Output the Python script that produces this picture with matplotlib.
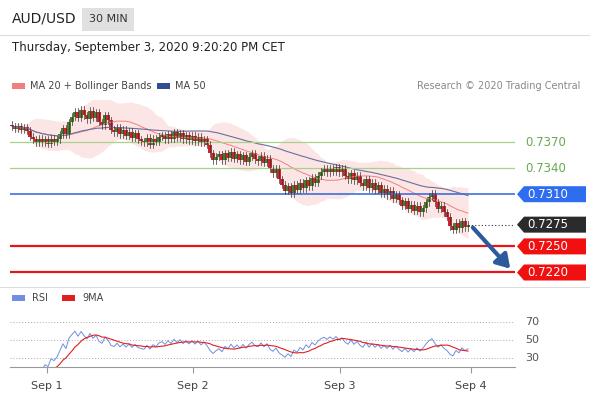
import matplotlib
matplotlib.use("Agg")
import matplotlib.pyplot as plt
from matplotlib.patches import Polygon, Rectangle
import numpy as np
import pandas as pd

closes = [0.7388,0.7385,0.7388,0.7384,0.7387,0.7383,
 0.7376,0.7373,0.7369,0.7374,0.7369,
 0.7373,0.7368,0.7374,0.7370,0.7373,
 0.7379,0.7386,0.7379,0.7393,
 0.7399,0.7405,0.7398,0.7407,0.7401,0.7396,0.7406,0.7398,0.7404,0.7393,
 0.7389,0.7401,0.7395,
 0.7384,0.7381,0.7387,0.7379,0.7384,0.7377,0.7382,0.7375,0.7380,0.7373,
 0.7371,0.7369,0.7375,0.7367,0.7374,0.7370,0.7376,
 0.7378,0.7373,0.7379,0.7374,0.7381,0.7375,0.7380,0.7373,0.7378,0.7372,0.7377,0.7371,0.7376,
 0.7369,0.7373,0.7367,
 0.7357,0.7349,0.7353,
 0.7356,0.7349,0.7357,0.7352,0.7359,0.7351,0.7356,0.7349,0.7355,0.7347,0.7353,0.7357,0.7350,0.7348,0.7354,0.7346,0.7351,
 0.7339,0.7334,0.7339,0.7327,0.7321,
 0.7314,0.7319,0.7311,0.7321,0.7315,
 0.7323,0.7317,0.7326,0.7319,0.7329,0.7323,0.7331,
 0.7336,0.7339,0.7335,0.7340,0.7336,0.7341,0.7335,0.7339,
 0.7331,0.7327,0.7334,0.7326,0.7331,
 0.7323,0.7319,0.7327,0.7317,0.7323,0.7315,0.7320,
 0.7311,0.7316,0.7309,0.7314,0.7305,0.7310,0.7303,
 0.7297,0.7302,0.7293,0.7298,0.7291,0.7297,0.7289,0.7294,
 0.7301,0.7307,0.7311,0.7301,
 0.7293,0.7297,0.7289,0.7284,
 0.7273,0.7269,0.7277,0.7271,0.7279,0.7272,0.7275]
first_open = 0.7390
day_labels = ["Sep 1", "Sep 2", "Sep 3", "Sep 4"]
day_pos = [11.7, 60.3, 109.3, 153.0]
green_levels = [0.7370, 0.7340]
blue_level = 0.7310
last_level = 0.7275
red_levels = [0.7250, 0.7220]
rsi_levels = [70, 50, 30]

W, H = 590, 400
fig = plt.figure(figsize=(5.9, 4.0), dpi=100)
fig.patch.set_facecolor("white")

def fx(x): return x / W
def fy(y): return 1 - y / H

n = len(closes)
c = pd.Series(closes)
opens = [first_open] + closes[:-1]
ma20 = c.rolling(20, min_periods=2).mean()
sd20 = c.rolling(20, min_periods=2).std()
ma50 = c.rolling(50, min_periods=1).mean()

x0p, x1p = 10, 515
ax = fig.add_axes([fx(x0p), fy(285), fx(x1p - x0p), (285 - 100) / H])
xl = (-(12 - x0p) / 3.0, (x1p - 12) / 3.0)
ax.set_xlim(*xl)
def py2v(y): return 0.7370 + (142 - y) / 8.7 * 0.001
ax.set_ylim(py2v(285), py2v(100))
ax.axis("off")
xs = np.arange(n)
ax.fill_between(xs, ma20 - 2.3 * sd20, ma20 + 2.3 * sd20, color="#fbd5d5", alpha=0.6, lw=0)
ax.plot(xs, ma20, color="#f08080", lw=0.7)
ax.plot(xs, ma50, color="#6a6f9a", lw=0.8)
for lv in green_levels:
    ax.axhline(lv, color="#a9d18e", lw=0.9)
ax.axhline(blue_level, color="#3d6fe0", lw=1.2)
for lv in red_levels:
    ax.axhline(lv, color="#e8141b", lw=1.6)
ax.plot([n - 1, xl[1]], [last_level, last_level], ls=(0, (1, 2)), color="#333", lw=0.8)
for i in range(n):
    o, cl = opens[i], closes[i]
    col = "#4d7a2a" if cl >= o else "#c7282e"
    hi, lo = max(o, cl) + 0.0004, min(o, cl) - 0.0004
    ax.plot([i, i], [lo, hi], color="#333", lw=0.5)
    ax.add_patch(Rectangle((i - 0.6, min(o, cl)), 1.2, max(abs(cl - o), 0.00003), color=col, lw=0))
ax.annotate("", xy=(166.7, 0.7222), xytext=(153.0, 0.7274),
            arrowprops=dict(arrowstyle="-|>,head_width=0.5,head_length=0.8", color="#2d5a9a", lw=3))

def label(v, text, fc, tc="white"):
    y = 142 - (v - 0.7370) / 0.001 * 8.7
    if fc is None:
        fig.text(fx(525), fy(y), text, color="#6aa84f", fontsize=8.5, va="center")
        return
    pts = [(517, y), (524, y - 8), (586, y - 8), (586, y + 8), (524, y + 8)]
    fig.patches.append(Polygon([(fx(a), fy(b)) for a, b in pts], closed=True, fc=fc, ec="none",
                               transform=fig.transFigure, figure=fig))
    fig.text(fx(527), fy(y), text, color=tc, fontsize=8.5, va="center")

for lv in green_levels:
    label(lv, f"{lv:.4f}", None)
label(blue_level, f"{blue_level:.4f}", "#2e6df0")
label(last_level, f"{last_level:.4f}", "#2b2b2b")
for lv in red_levels:
    label(lv, f"{lv:.4f}", "#f01010")

# RSI
delta = c.diff()
up = delta.clip(lower=0).ewm(alpha=1/14, adjust=False).mean()
dn = (-delta.clip(upper=0)).ewm(alpha=1/14, adjust=False).mean()
rsi = 100 - 100 / (1 + up / dn.replace(0, np.nan))
rsi = rsi.iloc[1:]
rsi9 = rsi.rolling(9, min_periods=1).mean()
ax2 = fig.add_axes([fx(x0p), fy(367), fx(x1p - x0p), (367 - 290) / H])
ax2.set_xlim(*xl)
ax2.set_ylim(30 - 9 / 0.9, 70 + 32 / 0.9)
for lv in rsi_levels:
    ax2.axhline(lv, color="#aaa", ls=(0, (1, 2)), lw=0.7)
    fig.text(fx(525), fy(358 - (lv - 30) * 0.9), str(lv), fontsize=8, color="#555", va="center")
ax2.plot(rsi.index, rsi, color="#6f8fe0", lw=0.7)
ax2.plot(rsi9.index, rsi9, color="#e02020", lw=0.8)
for s in ["top", "right", "left"]:
    ax2.spines[s].set_visible(False)
ax2.spines["bottom"].set_color("#999")
ax2.set_yticks([])
ax2.set_xticks(day_pos)
ax2.set_xticklabels(day_labels, fontsize=8, color="#444")
ax2.tick_params(axis="x", length=4, color="#999", pad=6)

fig.add_artist(plt.Line2D([0, 1], [fy(35), fy(35)], color="#ddd", lw=0.8))
fig.add_artist(plt.Line2D([0, 1], [fy(287), fy(287)], color="#ddd", lw=0.8))
fig.text(fx(12), fy(19), "AUD/USD", fontsize=10, color="#222", va="center")
fig.patches.append(Rectangle((fx(82), fy(31)), fx(52), 23 / H, fc="#e0e0e0", ec="none",
                             transform=fig.transFigure, figure=fig))
fig.text(fx(108), fy(19), "30 MIN", fontsize=8, color="#333", va="center", ha="center")
fig.text(fx(12), fy(47), "Thursday, September 3, 2020 9:20:20 PM CET", fontsize=8.5, color="#222", va="center")

def leg(x, y, col, text, tx):
    fig.patches.append(Rectangle((fx(x), fy(y + 3)), fx(13), 6 / H, fc=col, ec="none",
                                 transform=fig.transFigure, figure=fig))
    fig.text(fx(tx), fy(y), text, fontsize=7, color="#444", va="center")
leg(12, 86, "#f08080", "MA 20 + Bollinger Bands", 30)
leg(157, 86, "#2f4f8f", "MA 50", 175)
fig.text(fx(580), fy(86), "Research © 2020 Trading Central", fontsize=7, color="#888", va="center", ha="right")
leg(12, 298, "#6f8fe0", "RSI", 32)
leg(62, 298, "#e02020", "9MA", 82)

fig.savefig("out.png", dpi=100)
